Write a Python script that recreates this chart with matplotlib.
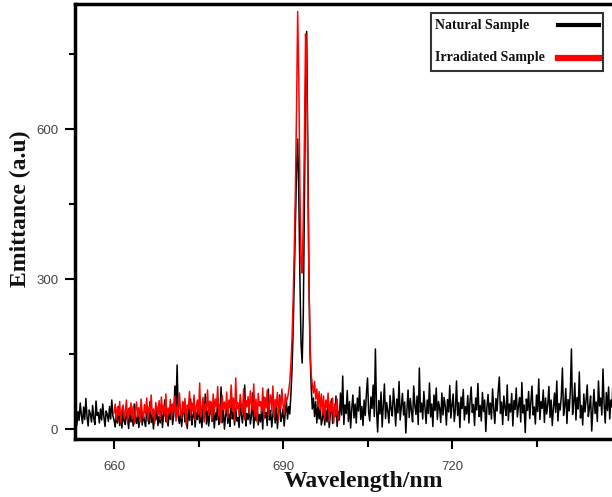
import numpy as np
import matplotlib
matplotlib.use("Agg")
import matplotlib.pyplot as plt
from matplotlib.ticker import MultipleLocator
from matplotlib.patches import Rectangle
from matplotlib.lines import Line2D

# ---------------- data ----------------
step = 0.2  # nm sampling

# Natural sample (black), starting at 653.0 nm
black_start = 653.0
black_a = [22, 41, 8, 35, 17, 52, 28, 11, 44, 19, 61, 25, 6, 38, 30, 14, 47, 21,
           9, 56, 27, 33, 12, 40, 18, 50, 24, 5, 36, 29, 15, 45, 20, 58, 26]
black_b = [18, 4, 31, 12, 45, 7, 26, 2, 38, 15,
           9, 33, 20, 1, 42, 14, 27, 6, 50, 19,
           11, 36, 3, 24, 47, 8, 30, 16, 5, 39,
           22, 10, 55, 13, 28, 0, 34, 18, 44, 7,
           25, 12, 40, 3, 31, 58, 15, 21, 6, 37,
           19, 48, 9, 27, 86, 43, 128, 24, 11, 35,
           5, 30, 52, 14, 22, 1, 41, 17, 60, 8,
           26, 38, 4, 33, 19, 49, 12, 28, 3, 45,
           21, 70, 10, 36, 6, 29, 54, 15, 40, 2,
           32, 18, 62, 9, 25, 84, 13, 37, 0, 27,
           47, 11, 30, 5, 76, 20, 34, 8, 42, 16,
           23, 3, 58, 28, 12, 39, 88, 6, 31, 19,
           44, 10, 26, 72, 2, 35, 17, 50, 8, 29,
           14, 41, 0, 64, 22, 33, 7, 80, 18, 37,
           4, 27, 52, 12, 45, 1, 31, 68, 15, 24,
           40, 6, 33, 55, 20]
black_peak = [45, 30, 70, 120, 200, 300, 410, 520, 580, 470,
              300, 170, 132, 230, 450, 680, 795, 560, 300, 150,
              85, 40, 62, 25, 55, 12, 48, 20, 42, 8]
black_d = [20, 45, 8, 38, 14, 52, 3, 30, 60, 11,
           42, 24, 66, 5, 35, 18, 72, 28, 106, 9,
           48, 31, 77, 15, 55, 2, 40, 68, 22, 50,
           12, 62, 36, 84, 19, 45, 7, 58, 27, 70,
           102, 33, 16, 64, 41, 88, 25, 160, 38, -6,
           57, 30, 74, 4, 46, 90, 21, 53, 35, 12,
           67, 40, 26, 81, 49, 6, 60, 32, 95, 18,
           44, 71, 28, 54, -8, 39, 78, 23, 61, 36,
           14, 86, 47, 29, 66, 9, 122, 34, 52, 20,
           75, 43, 11, 58, 31, 92, 24, 50, 5, 68,
           37, 82, 19, 55, 42, 13, 72, 28, 63, 46,
           8, 59, 34, 87, 22, 48, 70, 15, 39, 96,
           27, 53, 3, 64, 41, 79, 18, 45, 30, 67,
           12, 56, 84, 33, 49, 7, 62, 38, 91, 25,
           47, 16, 73, 35, 58, -5, 44, 69, 29, 52,
           20, 80, 40, 11, 61, 36, 76, 104, 31, 54,
           9, 66, 43, 27, 88, 17, 50, 34, 71, 6,
           57, 39, 82, 24, 46, 63, 14, 93, 32, 48,
           -7, 60, 37, 75, 21, 53, 86, 28, 44, 10,
           68, 35, 100, 19, 55, 41, 78, 13, 62, 30,
           49, 85, 23, 58, 7, 42, 72, 33, 96, 16,
           51, 38, 65, 122, 27, 45, 81, 11, 59, 36,
           74, 160, 29, 52, 92, 18, 63, 40, 114, 22,
           47, 8, 70, 34, 57, 88, 25, 43, 66, -4,
           39, 79, 31, 54, 15, 96, 46, 62, 28, 120,
           50, 12, 73, 37, 84, 20, 58, 44, 101, 26,
           65, 9, 48, 77, 33]

# Irradiated sample (red), starting at 660.0 nm
red_start = 660.0
red_a = [32, 50, 18, 44, 27, 55, 12, 39, 48, 22,
         36, 58, 15, 41, 29, 52, 20, 46, 10, 37,
         54, 25, 43, 14, 60, 33, 21, 49, 30, 62,
         17, 45, 35, 68, 24, 40, 11, 53, 38, 28,
         57, 19, 64, 34, 47, 26, 70, 13, 42, 31,
         59, 23, 50, 36, 66, 16, 44, 29, 72, 38,
         21, 55, 33, 61, 9, 48, 40, 75, 27, 52,
         35, 68, 18, 46, 58, 30, 92, 24, 43, 63,
         14, 51, 37, 78, 28, 56, 41, 20, 70, 33,
         60, 45, 85, 26, 49, 12, 67, 39, 54, 31,
         74, 22, 58, 43, 88, 35, 62, 16, 102, 40,
         53, 27, 69, 47, 33, 80, 19, 57, 44, 65,
         30, 76, 50, 38, 90, 25, 60, 14, 71, 46,
         55, 34, 82, 20, 63, 42, 78, 28, 52, 68,
         36, 86, 24, 59, 45, 73, 18, 64, 40, 80,
         48, 30, 70, 55, 62]
red_peak = [75, 95, 130, 180, 260, 360, 480, 640, 835, 700,
            480, 330, 312, 420, 580, 790, 720, 500, 300, 170,
            110, 88, 72, 95, 60, 80, 45, 75, 38, 70]
red_b = [30, 66, 20, 58, 42, 72, 15, 55, 35, 62, 12, 50, 28, 60, 18]

x_ticks = [660, 690, 720]
y_ticks = [0, 300, 600]
legend_labels = ["Natural Sample", "Irradiated Sample"]
series_colors = ["black", "#ff0000"]

# ---------------- build series ----------------
black_y = np.array(black_a + black_b + black_peak + black_d, dtype=float)
red_y = np.array(red_a + red_peak + red_b, dtype=float)
black_x = black_start + step * np.arange(len(black_y))
red_x = red_start + step * np.arange(len(red_y))

# ---------------- figure ----------------
W, H = 612, 497
fig = plt.figure(figsize=(W / 100, H / 100), dpi=100)
left, right, top, bottom = 75, 621, 4, 439
ax = fig.add_axes([left / W, 1 - bottom / H, (right - left) / W, (bottom - top) / H])

ax.plot(black_x, black_y, color=series_colors[0], lw=1.1)
ax.plot(red_x, red_y, color=series_colors[1], lw=1.1)

ax.set_xlim(653.07, 750)
ax.set_ylim(-20, 850)
ax.set_xticks(x_ticks)
ax.set_yticks(y_ticks)
ax.xaxis.set_minor_locator(MultipleLocator(15))
ax.yaxis.set_minor_locator(MultipleLocator(150))

for s in ax.spines.values():
    s.set_linewidth(2.5)

ax.tick_params(axis="both", which="major", direction="out", length=7, width=1.5,
               labelsize=9.5, labelcolor="#444444", labelfontfamily="Liberation Sans")
ax.tick_params(axis="x", which="major", pad=9)
ax.tick_params(axis="y", which="major", pad=5)
ax.tick_params(axis="x", which="minor", direction="out", length=6, width=1.5)
ax.tick_params(axis="y", which="minor", direction="out", length=4, width=1.5)

fig.text(363 / W, 1 - 482 / H, "Wavelength/nm", ha="center", va="center",
         fontsize=17, fontweight="bold", family="Liberation Serif", color="#111111")
fig.text(20 / W, 1 - 209 / H, "Emittance (a.u)", ha="center", va="center",
         rotation=90, fontsize=17, fontweight="bold", family="Liberation Serif",
         color="#111111")

# ---------------- legend (text left, handle right) ----------------
def fx(px):
    return px / W

def fy(py):
    return 1 - py / H

fig.patches.append(Rectangle((fx(431), fy(71)), fx(603) - fx(431), fy(13) - fy(71),
                             transform=fig.transFigure, fill=False,
                             edgecolor="#333333", linewidth=1.5, zorder=5))
row_y = [25, 58]
for lab, col, ry, lw in zip(legend_labels, series_colors, row_y, [3, 4.5]):
    fig.text(fx(435), fy(ry), lab, ha="left", va="center", fontsize=10,
             fontweight="bold", family="Liberation Serif", color="#111111")
    fig.lines.append(Line2D([fx(558), fx(599)], [fy(ry), fy(ry)],
                            transform=fig.transFigure, color=col, lw=lw))

fig.savefig("out.png", dpi=100)
